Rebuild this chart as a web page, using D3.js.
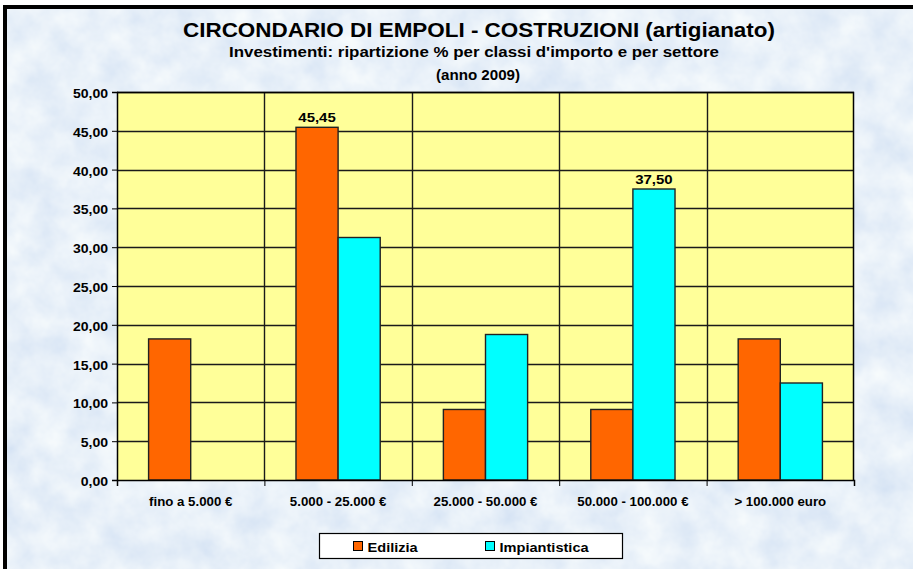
<!DOCTYPE html>
<html>
<head>
<meta charset="utf-8">
<script src="https://cdn.jsdelivr.net/npm/d3@7"></script>
<style>
    body { margin: 0; background: #fff; }
    svg { display: block; font-family: "Liberation Sans", Arial, sans-serif; }
</style>
</head>
<body>
<div id="chart"></div>
<script>
// chart data
const categories = ["fino a 5.000 €", "5.000 - 25.000 €", "25.000 - 50.000 €", "50.000 - 100.000 €", "> 100.000 euro"];
const seriesNames = ["Edilizia", "Impiantistica"];
const edilizia = [18.18, 45.45, 9.09, 9.09, 18.18];
const impiantistica = [0, 31.25, 18.75, 37.50, 12.50];
const yTicks = [0, 5, 10, 15, 20, 25, 30, 35, 40, 45, 50];
// only these values get a label in the original
const labelled = [45.45, 37.50];

const colors = { "Edilizia": "#ff6600", "Impiantistica": "#00ffff" };

const W = 913, H = 569;
const margin = { top: 92, right: 59, bottom: 89, left: 117 };
const width = W - margin.left - margin.right;
const height = H - margin.top - margin.bottom;

const fmt = d => d3.format(".2f")(d).replace(".", ",");

// the original text is drawn a bit wider than Arial, stretch it a little
function stretchBy(sel, k) {
    sel.each(function() {
        const w = this.getComputedTextLength();
        this.setAttribute("textLength", w * k);
        this.setAttribute("lengthAdjust", "spacingAndGlyphs");
    });
}
function stretchTo(sel, w) {
    sel.attr("textLength", w).attr("lengthAdjust", "spacingAndGlyphs");
}

const svg = d3.select("#chart").append("svg")
    .attr("width", W)
    .attr("height", H);

// paper-like blue texture
const defs = svg.append("defs");
const filt = defs.append("filter").attr("id", "paper")
    .attr("x", 0).attr("y", 0).attr("width", "100%").attr("height", "100%");
filt.append("feTurbulence")
    .attr("type", "fractalNoise")
    .attr("baseFrequency", 0.03)
    .attr("numOctaves", 4)
    .attr("seed", 7);
filt.append("feColorMatrix")
    .attr("type", "matrix")
    .attr("values", "0.32 0 0 0 0.65  0.24 0 0 0 0.755  0.09 0 0 0 0.9  0 0 0 0 1");

svg.append("rect")
    .attr("x", 3).attr("y", 5)
    .attr("width", W).attr("height", H)
    .attr("filter", "url(#paper)");

// outer frame (only top and left edges visible)
svg.append("path")
    .attr("d", `M5,${H} V7 H${W}`)
    .attr("fill", "none")
    .attr("stroke", "#000")
    .attr("stroke-width", 4);

// titles
svg.append("text")
    .attr("x", 479).attr("y", 37)
    .attr("text-anchor", "middle")
    .style("font-size", "21px").style("font-weight", "bold")
    .text("CIRCONDARIO DI EMPOLI - COSTRUZIONI (artigianato)")
    .call(stretchTo, 592);
svg.append("text")
    .attr("x", 474).attr("y", 57)
    .attr("text-anchor", "middle")
    .style("font-size", "14px").style("font-weight", "bold")
    .text("Investimenti: ripartizione % per classi d'importo e per settore")
    .call(stretchTo, 490);
svg.append("text")
    .attr("x", 478).attr("y", 80)
    .attr("text-anchor", "middle")
    .style("font-size", "14px").style("font-weight", "bold")
    .text("(anno 2009)")
    .call(stretchBy, 1.08);

const g = svg.append("g")
    .attr("transform", `translate(${margin.left}, ${margin.top})`);

// scales
const x0 = d3.scaleBand().domain(categories).range([0, width]).padding(0);
const x1 = d3.scaleBand().domain(seriesNames).range([0, x0.bandwidth()])
    .paddingInner(0).paddingOuter(0.75);
const y = d3.scaleLinear().domain([0, 50]).range([height, 0]);

// plot area
g.append("rect")
    .attr("width", width).attr("height", height)
    .attr("fill", "#ffff99");

// horizontal gridlines
g.append("g").selectAll("line")
    .data(yTicks.slice(1))
    .join("line")
    .attr("x1", 0).attr("x2", width)
    .attr("y1", d => Math.round(y(d)) + 0.5).attr("y2", d => Math.round(y(d)) + 0.5)
    .attr("stroke", "#1a1a1a").attr("stroke-width", 1.4);

// vertical gridlines at category edges
g.append("g").selectAll("line")
    .data(categories.slice(1))
    .join("line")
    .attr("x1", d => Math.round(x0(d)) + 0.5).attr("x2", d => Math.round(x0(d)) + 0.5)
    .attr("y1", 0).attr("y2", height)
    .attr("stroke", "#1a1a1a").attr("stroke-width", 1.4);

// plot border (top/right)
g.append("path")
    .attr("d", `M0,0.5 H${width - 0.5} V${height}`)
    .attr("fill", "none").attr("stroke", "#000").attr("stroke-width", 1.5);

// bars
const rows = categories.map((c, i) => ({
    cat: c,
    vals: [
        { name: "Edilizia", value: edilizia[i] },
        { name: "Impiantistica", value: impiantistica[i] }
    ]
}));

const groups = g.append("g").selectAll("g")
    .data(rows)
    .join("g")
    .attr("transform", d => `translate(${x0(d.cat)},0)`);

groups.selectAll("rect")
    .data(d => d.vals.filter(v => v.value > 0))
    .join("rect")
    .attr("x", d => x1(d.name))
    .attr("y", d => y(d.value))
    .attr("width", x1.bandwidth())
    .attr("height", d => height - y(d.value))
    .attr("fill", d => colors[d.name])
    .attr("stroke", "#222")
    .attr("stroke-width", 1.4);

// data labels
groups.selectAll("text.lbl")
    .data(d => d.vals.filter(v => labelled.includes(v.value)))
    .join("text")
    .attr("class", "lbl")
    .attr("x", d => x1(d.name) + x1.bandwidth() / 2)
    .attr("y", d => y(d.value) - 5)
    .attr("text-anchor", "middle")
    .style("font-size", "13px").style("font-weight", "bold")
    .text(d => fmt(d.value))
    .call(stretchBy, 1.15);

// y axis
const yAxis = g.append("g")
    .call(d3.axisLeft(y).tickValues(yTicks).tickSize(5).tickPadding(4).tickFormat(fmt));
yAxis.select(".domain").attr("stroke", "#000").attr("stroke-width", 1.5);
yAxis.selectAll("line").attr("stroke", "#000");
yAxis.selectAll("text")
    .attr("dy", "0.45em")
    .attr("fill", "#000")
    .attr("font-family", "Liberation Sans, Arial, sans-serif")
    .style("font-size", "12px").style("font-weight", "bold")
    .call(stretchBy, 1.17);

// x axis with ticks at category edges
const xEdge = d3.scaleLinear().domain([0, categories.length]).range([0, width]);
const xAxis = g.append("g")
    .attr("transform", `translate(0, ${height})`)
    .call(d3.axisBottom(xEdge).tickValues(d3.range(categories.length + 1))
        .tickSize(6).tickFormat(""));
xAxis.select(".domain").attr("stroke", "#000").attr("stroke-width", 1.5);
xAxis.selectAll("line").attr("stroke", "#000");

g.append("g").selectAll("text")
    .data(categories)
    .join("text")
    .attr("x", d => x0(d) + x0.bandwidth() / 2)
    .attr("y", height + 26)
    .attr("text-anchor", "middle")
    .style("font-size", "12.5px").style("font-weight", "bold")
    .text(d => d)
    .call(stretchBy, 1.06);

// legend
const legend = svg.append("g").attr("transform", "translate(319.5, 533.5)");
legend.append("rect")
    .attr("width", 303).attr("height", 25)
    .attr("fill", "#fff").attr("stroke", "#000").attr("stroke-width", 1.2);

const legX = [34, 166];
seriesNames.forEach((s, i) => {
    legend.append("rect")
        .attr("x", legX[i]).attr("y", 8)
        .attr("width", 9).attr("height", 9)
        .attr("fill", colors[s]).attr("stroke", "#000");
    legend.append("text")
        .attr("x", legX[i] + 14).attr("y", 18.5)
        .style("font-size", "13.5px").style("font-weight", "bold")
        .text(s)
        .call(stretchBy, 1.08);
});
</script>
</body>
</html>
